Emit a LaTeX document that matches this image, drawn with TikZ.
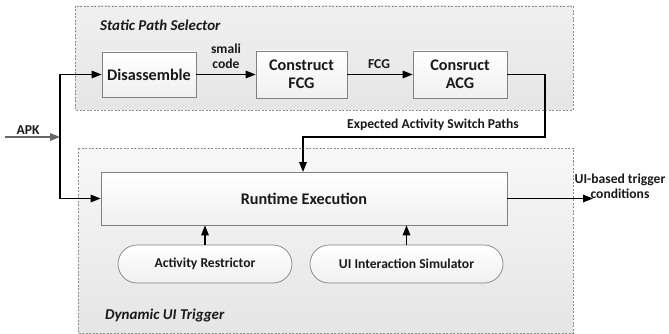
\documentclass[tikz,border=0pt]{standalone}
\usepackage{fontspec}
\setmainfont{Carlito}
\usetikzlibrary{arrows.meta}

\begin{document}
\begin{tikzpicture}[x=1pt,y=-1pt]
          \tikzstyle{every node}+=[font=\bfseries, text=black!90]
          \tikzstyle{group}=[draw=black!45, dash pattern=on 2pt off 1.5pt, line width=0.6pt]
          \tikzstyle{block}=[draw=black!50, line width=0.7pt, top color=white, bottom color=black!6, align=center, font=\bfseries\fontsize{16.2}{18}\selectfont, inner sep=0pt]
          \tikzstyle{pill}=[block, rounded corners=19pt, font=\bfseries\fontsize{13.6}{15}\selectfont]
          \tikzstyle{lbl}=[align=center, font=\bfseries\fontsize{13.6}{15}\selectfont, inner sep=0pt]
          \tikzstyle{title}=[anchor=west, font=\bfseries\itshape\fontsize{15}{17}\selectfont, inner sep=0pt]
          \tikzstyle{flow}=[line width=1.5pt, -{Triangle[length=10pt,width=7.5pt]}]
          \useasboundingbox (0,0) rectangle (669,334);
          \shade [group, top color=black!6, bottom color=black!10] (75,6) rectangle (573,110);
          \shade [group, top color=black!3, bottom color=black!10] (78,148) rectangle (573,333);
          \node [title] (sps) at (100,25) {Static Path Selector};
          \node [title] (dut) at (105,315) {Dynamic UI Trigger};
          \node [block, minimum width=94pt, minimum height=45pt] (dis) at (149,74.5) {Disassemble};
          \node [block, minimum width=91pt, minimum height=47pt] (fcg) at (301.5,74.5) {Construct\\FCG};
          \node [block, minimum width=94pt, minimum height=47pt] (acg) at (460,74.5) {Consruct\\ACG};
          \node [block, minimum width=406pt, minimum height=53pt] (run) at (304,198.5) {Runtime Execution};
          \node [pill, minimum width=174pt, minimum height=38pt] (ar) at (205,264) {Activity Restrictor};
          \node [pill, minimum width=193pt, minimum height=38pt] (uis) at (406.5,264) {UI Interaction Simulator};
          \node [lbl] (apk) at (28,130) {APK};
          \node [lbl] (smali) at (226,56) {smali\\code};
          \node [lbl] (fcgl) at (379,64) {FCG};
          \node [lbl] (easp) at (433,125) {Expected Activity Switch Paths};
          \node [lbl] (out) at (620,186) {UI-based trigger\\conditions};
          \coordinate (in) at (5,137);
          \coordinate (fork) at (60,137);
          \coordinate (res) at (593,198.5);
          \draw [flow, draw=black!60] (in) -- (fork);
          \draw [line width=1.5pt] (fork) -- (60,74.5);
          \draw [flow] (60,74.5) -- (dis);
          \draw [flow] (fork) |- (run);
          \draw [flow] (dis) -- (fcg);
          \draw [flow] (fcg) -- (acg);
          \draw [flow] (acg.east) -- (545,74.5) -- (545,137) -- (303,137) -- (303,172);
          \draw [flow] (run.east) -- (res);
          \draw [flow] (ar) -- (ar|-run.south);
          \draw [flow] (uis) -- (uis|-run.south);
\end{tikzpicture}
\end{document}
